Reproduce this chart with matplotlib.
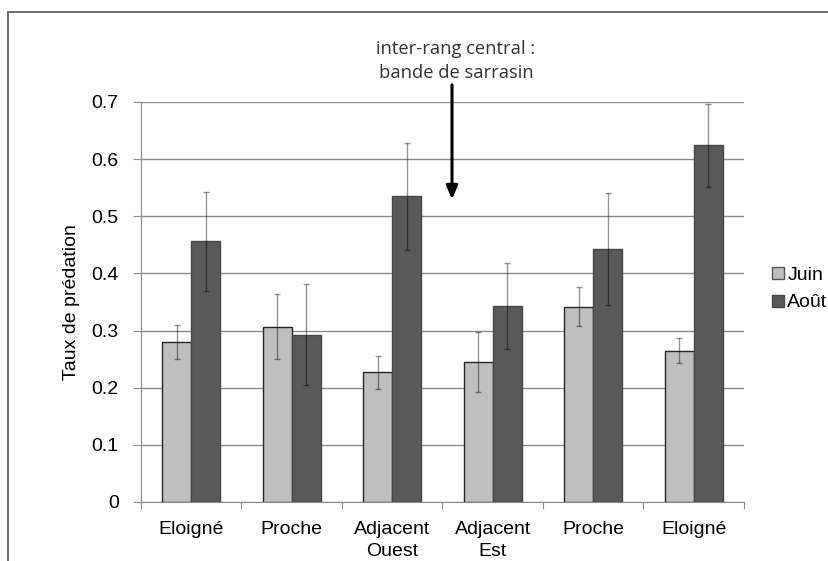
import numpy as np
import matplotlib
matplotlib.use("Agg")
import matplotlib.pyplot as plt
from matplotlib.lines import Line2D

categories=["Eloigné","Proche","Adjacent\nOuest","Adjacent\nEst","Proche","Eloigné"]
juin=[0.280,0.307,0.227,0.245,0.342,0.265]
juin_err=[0.029,0.057,0.029,0.052,0.034,0.022]
aout=[0.456,0.293,0.535,0.343,0.443,0.624]
aout_err=[0.087,0.088,0.094,0.076,0.098,0.073]
yticks=[0,0.1,0.2,0.3,0.4,0.5,0.6,0.7]

plt.rcParams["font.family"]=["Liberation Sans","DejaVu Sans"]

fig=plt.figure(figsize=(8.29,5.61),dpi=100,facecolor="white")
ax=fig.add_axes([141/829,1-502/561,(744-141)/829,400/561])

x=np.arange(len(categories))
w=0.29
ekw=dict(ecolor=(0,0,0,0.42),elinewidth=1,capsize=2.2,capthick=1)
ax.bar(x-w/2,juin,w,color="#bfbfbf",edgecolor="#262626",linewidth=1,label="Juin",zorder=3,
       yerr=juin_err,error_kw=ekw)
ax.bar(x+w/2,aout,w,color="#595959",edgecolor="#474747",linewidth=1,label="Août",zorder=3,
       yerr=aout_err,error_kw=ekw)

ax.set_xlim(-0.5,len(categories)-0.5)
ax.set_ylim(0,0.7)
ax.set_yticks(yticks)
ax.set_yticklabels([f"{t:g}" for t in yticks],fontsize=14)
ax.yaxis.grid(True,color="#8c8c8c",lw=1,zorder=0)
ax.set_axisbelow(True)
ax.tick_params(axis="y",length=6,color="#8c8c8c",pad=10)
ax.set_xticks(np.arange(len(categories)+1)-0.5,minor=False)
ax.set_xticklabels([])
ax.tick_params(axis="x",length=5,color="#8c8c8c")
ax.set_xticks(x,minor=True)
ax.set_xticklabels(categories,minor=True,fontsize=14,linespacing=1.35)
ax.tick_params(axis="x",which="minor",length=0,pad=14)
for s in ["top","right"]:
    ax.spines[s].set_visible(False)
for s in ["left","bottom"]:
    ax.spines[s].set_color("#8c8c8c")
ax.set_ylabel("Taux de prédation",fontsize=14,labelpad=8)

handles=[Line2D([],[],marker="s",ls="none",markersize=8,markerfacecolor="#bfbfbf",markeredgecolor="#555555"),
         Line2D([],[],marker="s",ls="none",markersize=8,markerfacecolor="#595959",markeredgecolor="#474747")]
fig.legend(handles,["Juin","Août"],loc="center left",bbox_to_anchor=(760/829,1-289/561),frameon=False,
           fontsize=14,handletextpad=0.0,handlelength=0.9,labelspacing=0.5,borderpad=0)

fig.text(456/829,1-61/561,"inter-rang central :\nbande de sarrasin",ha="center",va="center",
         fontsize=13.2,family="Open Sans",color="#333333",linespacing=1.4)
ax.annotate("",xy=(452/829,1-202/561),xytext=(452/829,1-82/561),xycoords="figure fraction",
            arrowprops=dict(arrowstyle="-|>,head_width=0.35,head_length=0.8",color="black",lw=2.2))

fig.add_artist(Line2D([8/829,1],[1-12/561,1-12/561],color="#6b6b6b",lw=1.4,transform=fig.transFigure))
fig.add_artist(Line2D([8/829,8/829],[0,1-12/561],color="#6b6b6b",lw=1.4,transform=fig.transFigure))

fig.savefig("out.png",dpi=100,facecolor="white")
